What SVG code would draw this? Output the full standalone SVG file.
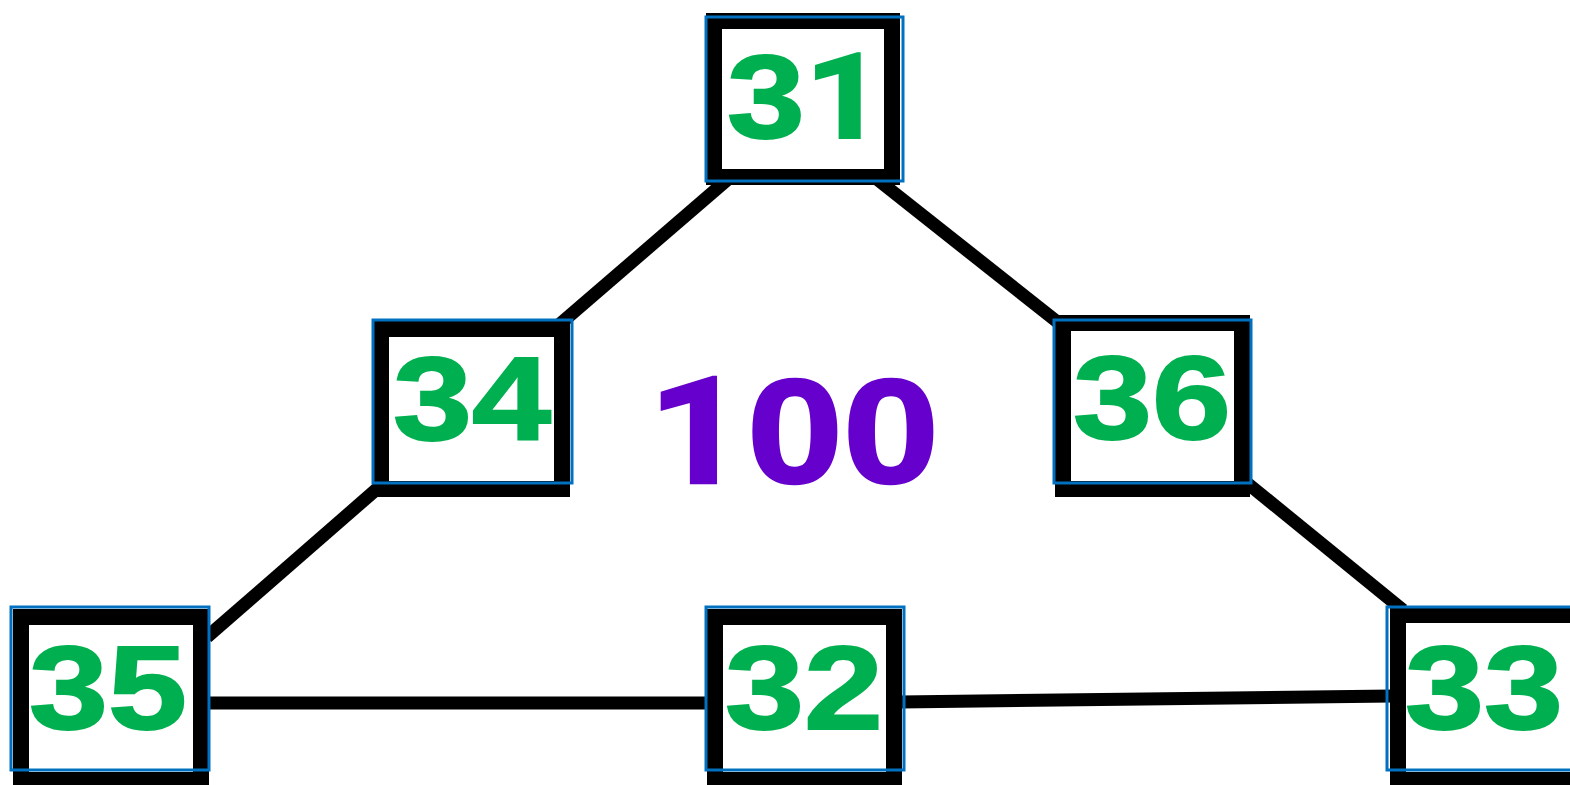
<svg xmlns="http://www.w3.org/2000/svg" width="1570" height="785" viewBox="0 0 1570 785">
<style>
.frame{fill:#fff;stroke:#000;stroke-width:16}
.outline{fill:none;stroke:#0070C0;stroke-width:3}
.conn{stroke:#000;stroke-width:13;stroke-linecap:butt;fill:none}
.lbl{font-family:"Liberation Sans",Arial,sans-serif;font-weight:700;font-size:119px;fill:#00B050;stroke:#00B050;stroke-width:2;stroke-linejoin:miter;stroke-miterlimit:3}
.center{font-family:"Liberation Sans",Arial,sans-serif;font-weight:700;font-size:149px;fill:#6600CC;stroke:#6600CC;stroke-width:2.5;stroke-linejoin:miter;stroke-miterlimit:3}
.one{font-family:Roboto,"Liberation Sans",sans-serif}
</style>
<rect width="1570" height="785" fill="#fff"/>
<g id="connectors">
<line class="conn" x1="727" y1="180" x2="560" y2="324"/>
<line class="conn" x1="878" y1="180" x2="1060" y2="324"/>
<line class="conn" x1="378" y1="488" x2="207" y2="637"/>
<line class="conn" x1="1247" y1="483" x2="1403" y2="610"/>
<line class="conn" x1="205" y1="703" x2="710" y2="703"/>
<line class="conn" x1="900" y1="702" x2="1392" y2="696"/>
</g>
<g id="n31">
<rect class="frame" x="714" y="21" width="178" height="156"/>
<rect class="outline" x="706" y="17" width="197" height="164"/>
<text class="lbl" x="727" y="138" textLength="158" lengthAdjust="spacingAndGlyphs">3<tspan class="one">1</tspan></text>
</g>
<g id="n34">
<rect class="frame" x="381" y="329" width="181" height="160"/>
<rect class="outline" x="373" y="320" width="199" height="163"/>
<text class="lbl" x="393" y="440" textLength="158" lengthAdjust="spacingAndGlyphs">34</text>
</g>
<g id="n36">
<rect class="frame" x="1063" y="323" width="179" height="166"/>
<rect class="outline" x="1054" y="320" width="197" height="163"/>
<text class="lbl" x="1073" y="439" textLength="158" lengthAdjust="spacingAndGlyphs">36</text>
</g>
<g id="n35">
<rect class="frame" x="21" y="617" width="180" height="163"/>
<rect class="outline" x="11" y="607" width="198" height="163"/>
<text class="lbl" x="29" y="729" textLength="158" lengthAdjust="spacingAndGlyphs">35</text>
</g>
<g id="n32">
<rect class="frame" x="715" y="617" width="179" height="163"/>
<rect class="outline" x="706" y="607" width="198" height="163"/>
<text class="lbl" x="725" y="729" textLength="158" lengthAdjust="spacingAndGlyphs">32</text>
</g>
<g id="n33">
<rect class="frame" x="1398" y="615" width="180" height="165"/>
<rect class="outline" x="1387" y="607" width="190" height="163"/>
<text class="lbl" x="1405" y="729" textLength="158" lengthAdjust="spacingAndGlyphs">33</text>
</g>
<g id="center">
<text class="center" x="648" y="483" textLength="291" lengthAdjust="spacingAndGlyphs"><tspan class="one">1</tspan>00</text>
</g>
</svg>
